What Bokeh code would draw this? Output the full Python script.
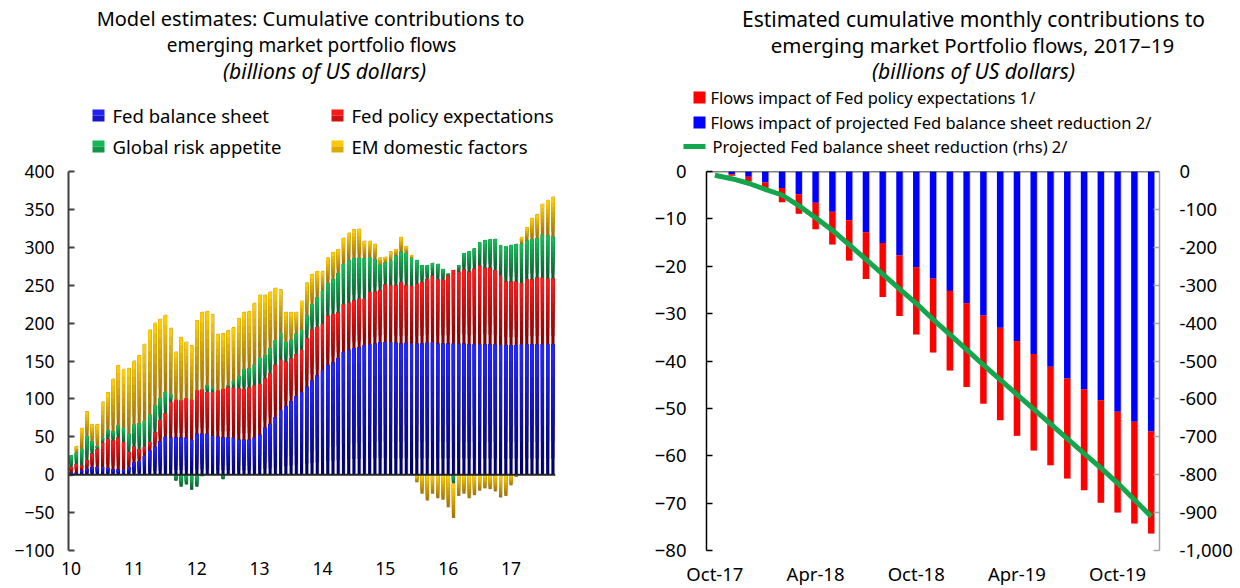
from bokeh.plotting import figure
from bokeh.models import (ColumnDataSource, Range1d, LinearAxis, FixedTicker, Span,
                          NumeralTickFormatter)
from bokeh.layouts import row, column
from bokeh.embed import file_html
from bokeh.resources import INLINE
from bokeh.core.properties import value

FONT = "Noto Sans"

# ---------------- Left chart data (monthly, Jan-2010 .. Sep-2017) ----------------
year_ticks = [0, 12, 24, 36, 48, 60, 72, 84]
year_labels = ["10", "11", "12", "13", "14", "15", "16", "17"]

fed_bs = [3, 3, 6, 8, 10, 10, 10, 9, 7, 7, 7, 10,
          16, 18, 25, 32, 37, 44, 50, 49, 49, 49, 49, 46,
          54, 54, 54, 51, 50, 49, 49, 49, 46, 46, 46, 49,
          53, 62, 67, 76, 85, 90, 97, 104, 109, 116, 124, 131,
          138, 145, 148, 154, 162, 165, 167, 168, 171, 172, 173, 175,
          175, 175, 174, 173, 174, 173, 173, 173, 174, 175, 173, 173,
          173, 173, 173, 173, 172, 172, 172, 172, 172, 172, 171, 171,
          171, 171, 172, 172, 172, 172, 172, 172, 172]
fed_pe = [7, 11, 6, 11, 18, 24, 32, 38, 38, 42, 36, 20,
          21, 16, 12, 11, 19, 28, 31, 47, 50, 49, 52, 53,
          57, 58, 55, 58, 61, 64, 67, 66, 68, 67, 69, 69,
          67, 65, 67, 69, 67, 59, 56, 55, 56, 64, 68, 64,
          61, 65, 64, 60, 63, 62, 63, 64, 61, 69, 69, 68,
          76, 75, 76, 81, 76, 76, 79, 81, 84, 88, 85, 84,
          90, 97, 95, 98, 96, 100, 104, 101, 101, 98, 92, 84,
          84, 84, 81, 86, 86, 88, 88, 87, 87]
risk = [15, 15, 22, 32, 16, 4, 7, 12, 12, 16, 19, 24,
        29, 34, 34, 36, 35, 29, 28, 10, -8, -16, -13, -20,
        -16, -2, 9, 6, 0, -6, 2, 9, 16, 26, 25, 27,
        34, 31, 33, 32, 35, 26, 25, 27, 26, 30, 33, 39,
        44, 43, 46, 52, 53, 56, 56, 54, 54, 46, 42, 34,
        29, 32, 39, 40, 42, 37, 31, 22, 18, 16, 20, 14,
        2, -12, 8, 21, 26, 26, 30, 36, 37, 41, 39, 46,
        48, 49, 52, 51, 53, 52, 57, 57, 55]
em_dom = [-2, 8, 27, 32, 22, 28, 47, 49, 69, 79, 77, 86,
          84, 89, 101, 112, 109, 104, 101, 87, 63, 83, 74, 71,
          92, 102, 97, 96, 74, 73, 72, 70, 76, 75, 75, 81,
          83, 79, 74, 69, 57, 39, 36, 28, 38, 43, 39, 34,
          25, 33, 35, 31, 34, 36, 37, 38, 22, 21, 20, 9,
          7, 12, 8, 19, 9, 3, -10, -25, -34, -25, -31, -33,
          -43, -45, -28, -25, -31, -27, -21, -18, -19, -22, -30, -28,
          -14, -3, 8, 17, 27, 31, 40, 46, 52]

left_names = ["Fed balance sheet", "Fed policy expectations",
              "Global risk appetite", "EM domestic factors"]
left_values = [fed_bs, fed_pe, risk, em_dom]
left_top_colors = ["#2424ff", "#ff1a1a", "#16bb58", "#ffcc00"]
left_bottom_colors = ["#00006e", "#8a0000", "#0a6030", "#a57600"]

# ---------------- Right chart data (Oct-2017 .. Dec-2019) ----------------
month_labels = ["Oct-17", "Nov-17", "Dec-17", "Jan-18", "Feb-18", "Mar-18", "Apr-18",
                "May-18", "Jun-18", "Jul-18", "Aug-18", "Sep-18", "Oct-18", "Nov-18",
                "Dec-18", "Jan-19", "Feb-19", "Mar-19", "Apr-19", "May-19", "Jun-19",
                "Jul-19", "Aug-19", "Sep-19", "Oct-19", "Nov-19", "Dec-19"]
flow_bs = [0, -0.6, -1.1, -2.3, -3.5, -4.8, -6.6, -8.5, -10.3, -12.8, -15.1, -17.7,
           -20.2, -22.6, -25.2, -27.8, -30.4, -33.0, -35.8, -38.5, -41.2, -43.7,
           -46.0, -48.3, -50.7, -52.8, -54.9]
flow_pe = [0, -0.3, -1.0, -1.4, -3.0, -4.1, -5.6, -6.9, -8.5, -9.9, -11.4, -12.8,
           -14.2, -15.6, -16.8, -17.7, -18.6, -19.5, -20.0, -20.4, -20.8, -21.1,
           -21.3, -21.6, -21.3, -21.5, -21.5]
bs_reduction = [-10, -19, -31, -47, -62, -90, -122, -155, -193, -232, -271, -310,
                -348, -390, -430, -470, -510, -549, -588, -627, -666, -705, -744,
                -782, -822, -866, -910]
right_ticks = [0, 6, 12, 18, 24]
right_names = ["Flows impact of Fed policy expectations 1/",
               "Flows impact of projected Fed balance sheet reduction 2/",
               "Projected Fed balance sheet reduction (rhs) 2/"]

GREEN = "#14a64c"


def hex2rgb(h):
    h = h.lstrip("#")
    return tuple(int(h[i:i + 2], 16) for i in (0, 2, 4))


def mix(c_dark, c_bright, t):
    a, b = hex2rgb(c_dark), hex2rgb(c_bright)
    return "#%02x%02x%02x" % tuple(int(round(a[j] + (b[j] - a[j]) * t)) for j in range(3))


W_ALL = 1240
H_HEAD = 158
H_CHART = 588 - H_HEAD
TOP_B = 13      # frame top at 171
BOT_B = 37      # frame bottom at 551

# ======================= HEADER (titles + legends) =======================
hd = figure(width=W_ALL, height=H_HEAD, x_range=Range1d(0, W_ALL),
            y_range=Range1d(H_HEAD, 0), x_axis_type=None, y_axis_type=None,
            output_backend="svg", toolbar_location=None, min_border=0, title=None)
hd.outline_line_color = None
hd.grid.visible = False


def add_text(xs, ys, texts, align="left", style="normal", size="18px"):
    hd.text(x=xs, y=ys, text=texts, text_align=align, text_baseline="middle",
            text_font=value(FONT), text_font_size=value(size),
            text_font_style=value(style), text_color="black")


# left titles
add_text([310], [18], ["Model estimates: Cumulative contributions to"], align="center",
         size="20px")
add_text([311], [44], ["emerging market portfolio flows"], align="center", size="19px")
add_text([324], [70], ["(billions of US dollars)"], align="center", style="italic",
         size="21px")
# left legend
leg_sq_x = [98, 337, 98, 337]
leg_sq_y = [115, 115, 146, 146]
for k in range(2):
    hd.rect(x=leg_sq_x, y=[y - 3 + 6 * k for y in leg_sq_y], width=12, height=6,
            fill_color=[mix(b, t, 0.95 - 0.35 * k)
                        for b, t in zip(left_bottom_colors, left_top_colors)],
            line_color=None)
add_text([x + 14 for x in leg_sq_x], leg_sq_y, left_names, size="18.5px")

# right titles
add_text([973], [18], ["Estimated cumulative monthly contributions to"], align="center",
         size="21px")
add_text([972], [44], ["emerging market Portfolio flows, 2017\u201319"], align="center",
         size="20.5px")
add_text([973], [70], ["(billions of US dollars)"], align="center", style="italic",
         size="21px")
# right legend
hd.rect(x=[699, 699], y=[97, 122], width=12, height=12, fill_color=["#ff0000", "#0000ff"],
        line_color=None)
hd.segment(x0=[683], y0=[146], x1=[705], y1=[146], line_color=GREEN, line_width=5)
add_text([710, 710, 712], [97, 122, 146], right_names, size="16.5px")

# ======================= LEFT CHART =======================
LW = 604
n_left = len(fed_bs)
p1 = figure(width=LW, height=H_CHART, x_range=Range1d(-0.5, n_left - 0.5),
            y_range=Range1d(-100, 400), output_backend="svg", toolbar_location=None,
            min_border_left=68, min_border_right=LW - 68 - 487, min_border_top=TOP_B,
            min_border_bottom=BOT_B, title=None)
p1.outline_line_color = None
p1.xgrid.visible = False
p1.ygrid.visible = False

pos = [0.0] * n_left
neg = [0.0] * n_left
NS = 8
slices = {"x": [], "bottom": [], "top": [], "color": []}
for vals, c_top, c_bot in zip(left_values, left_top_colors, left_bottom_colors):
    for i, v in enumerate(vals):
        if v == 0:
            continue
        if v > 0:
            b = pos[i]
            t = b + v
            pos[i] = t
        else:
            t = neg[i]
            b = t + v
            neg[i] = b
        for k in range(NS):
            slices["x"].append(i)
            slices["bottom"].append(b + (t - b) * k / NS)
            slices["top"].append(t)
            slices["color"].append(mix(c_bot, c_top, k / (NS - 1)))

shadow = ColumnDataSource(dict(x=[i + 0.14 for i in range(n_left)],
                               bottom=neg, top=[t + 1.2 for t in pos]))
p1.vbar(x="x", width=0.58, bottom="bottom", top="top", source=shadow,
        fill_color="#d0d0d0", line_color=None)
p1.vbar(x="x", width=0.58, bottom="bottom", top="top", source=ColumnDataSource(slices),
        fill_color="color", line_color=None)
p1.add_layout(Span(location=0, dimension="width", line_color="#262626", line_width=2))

ya = p1.yaxis[0]
ya.ticker = FixedTicker(ticks=list(range(-100, 401, 50)))
ya.axis_line_color = "#404040"
ya.axis_line_width = 2
ya.major_tick_in = 6
ya.major_tick_out = 0
ya.major_tick_line_color = "#404040"
ya.major_tick_line_width = 2
ya.minor_tick_line_color = None
ya.major_label_text_font = FONT
ya.major_label_text_font_size = "17.5px"
ya.major_label_text_color = "black"
ya.major_label_standoff = 14

xa = p1.xaxis[0]
xa.ticker = FixedTicker(ticks=year_ticks)
xa.major_label_overrides = {t: l for t, l in zip(year_ticks, year_labels)}
xa.axis_line_color = None
xa.major_tick_line_color = None
xa.major_tick_out = 0
xa.major_tick_in = 0
xa.minor_tick_line_color = None
xa.minor_tick_out = 0
xa.axis_label_standoff = 0
xa.major_label_text_font = FONT
xa.major_label_text_font_size = "17.5px"
xa.major_label_text_color = "black"
xa.major_label_standoff = 11

# ======================= RIGHT CHART =======================
RW = W_ALL - LW
n_right = len(month_labels)
p2 = figure(width=RW, height=H_CHART, x_range=Range1d(-0.5, n_right - 0.5),
            y_range=Range1d(-80, 0), output_backend="svg", toolbar_location=None,
            min_border_left=102, min_border_right=RW - 102 - 453, min_border_top=TOP_B,
            min_border_bottom=BOT_B, title=None)
p2.extra_y_ranges = {"rhs": Range1d(-1000, 0)}
p2.outline_line_color = None
p2.xgrid.visible = False
p2.ygrid.visible = False

xs = list(range(n_right))
red_bottom = [a + b for a, b in zip(flow_bs, flow_pe)]
src_r = ColumnDataSource(dict(x=xs, bs=flow_bs, pe_bottom=red_bottom, zero=[0] * n_right,
                              xsh=[x + 0.05 for x in xs]))
p2.vbar(x="xsh", width=0.38, top="zero", bottom="pe_bottom", source=src_r,
        fill_color="#c4c4c4", line_color=None)
p2.vbar(x="x", width=0.38, top="zero", bottom="bs", source=src_r,
        fill_color="#0000ff", line_color=None)
p2.vbar(x="x", width=0.38, top="bs", bottom="pe_bottom", source=src_r,
        fill_color="#ff0000", line_color=None)
p2.line(x=xs, y=bs_reduction, y_range_name="rhs", line_color=GREEN, line_width=5)
p2.add_layout(Span(location=0, dimension="width", line_color="black", line_width=1.5))

ya2 = p2.yaxis[0]
ya2.ticker = FixedTicker(ticks=list(range(-80, 1, 10)))
ya2.axis_line_color = "black"
ya2.axis_line_width = 1.5
ya2.major_tick_in = 6
ya2.major_tick_out = 0
ya2.major_tick_line_color = "black"
ya2.major_tick_line_width = 1.5
ya2.minor_tick_line_color = None
ya2.major_label_text_font = FONT
ya2.major_label_text_font_size = "18.5px"
ya2.major_label_text_color = "black"
ya2.major_label_standoff = 20

ra = LinearAxis(y_range_name="rhs", ticker=FixedTicker(ticks=list(range(-1000, 1, 100))),
                formatter=NumeralTickFormatter(format="0,0"))
ra.axis_line_color = "#a6a6a6"
ra.axis_line_width = 1.5
ra.major_tick_in = 6
ra.major_tick_out = 0
ra.major_tick_line_color = "#a6a6a6"
ra.major_tick_line_width = 1.5
ra.minor_tick_line_color = None
ra.major_label_text_font = FONT
ra.major_label_text_font_size = "18.5px"
ra.major_label_text_color = "black"
ra.major_label_standoff = 20
p2.add_layout(ra, "right")

xa2 = p2.xaxis[0]
xa2.ticker = FixedTicker(ticks=right_ticks)
xa2.major_label_overrides = {t: month_labels[t] for t in right_ticks}
xa2.axis_line_color = None
xa2.major_tick_line_color = None
xa2.major_tick_out = 0
xa2.major_tick_in = 0
xa2.minor_tick_line_color = None
xa2.minor_tick_out = 0
xa2.axis_label_standoff = 0
xa2.major_label_text_font = FONT
xa2.major_label_text_font_size = "18.5px"
xa2.major_label_text_color = "black"
xa2.major_label_standoff = 10

layout = column(hd, row(p1, p2))
open("out.html", "w").write(file_html(layout, INLINE))
